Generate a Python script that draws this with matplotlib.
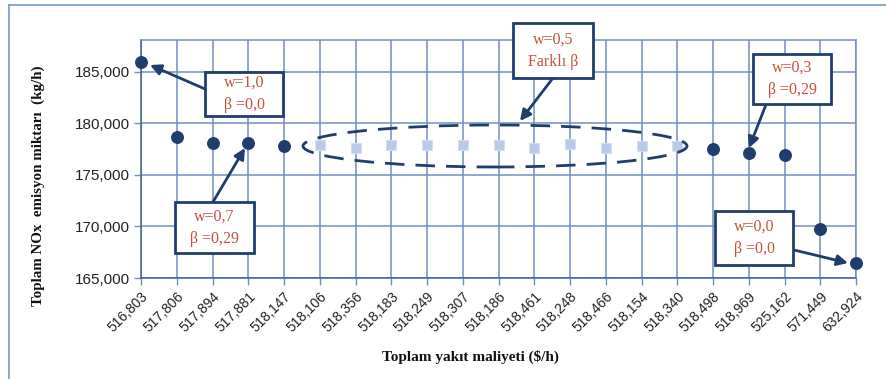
import matplotlib
matplotlib.use("Agg")
import matplotlib.pyplot as plt
from matplotlib.patches import Ellipse, Rectangle
from matplotlib.lines import Line2D
from matplotlib.ticker import FuncFormatter, MultipleLocator

categories = ["516,803", "517,806", "517,894", "517,881", "518,147", "518,106",
              "518,356", "518,183", "518,249", "518,307", "518,186", "518,461",
              "518,248", "518,466", "518,154", "518,340", "518,498", "518,969",
              "525,162", "571,449", "632,924"]
emissions = [185970, 178640, 178100, 178100, 177770, 177930, 177600, 177930,
             177930, 177930, 177930, 177600, 178030, 177600, 177770, 177770,
             177480, 177120, 176920, 169780, 166490]
square_idx = list(range(5, 16))
circle_idx = [i for i in range(len(categories)) if i not in square_idx]

W, H = 886, 379
fig = plt.figure(figsize=(W / 100, H / 100), dpi=100)
L, R, B, T = 141, 856, 278, 40
ax = fig.add_axes([L / W, 1 - B / H, (R - L) / W, (B - T) / H])

navy = "#1f3d6d"
grid_c = "#6f8fbf"
red = "#c9503c"

x = list(range(len(categories)))
ax.plot([x[i] for i in circle_idx], [emissions[i] for i in circle_idx], "o",
        color=navy, markersize=8.3, zorder=5, clip_on=False)
ax.plot([x[i] for i in square_idx], [emissions[i] for i in square_idx], "s",
        color="#b9c9e8", markeredgecolor="#d3def2", markeredgewidth=0.8,
        markersize=7.5, zorder=5, clip_on=False)

ax.set_xlim(0, len(categories) - 1)
ax.set_ylim(165000, 188100)
ax.yaxis.set_major_locator(MultipleLocator(5000))
ax.yaxis.set_major_formatter(FuncFormatter(lambda v, p: f"{int(v):,}"))
ax.set_xticks(x)
ax.set_xticklabels(categories, rotation=45, ha="right", rotation_mode="anchor",
                   fontsize=10, family="Liberation Sans", color="#222222")
for lab in ax.get_yticklabels():
    lab.set_fontsize(11)
    lab.set_family("Liberation Sans")
    lab.set_color("#222222")
ax.tick_params(axis="both", length=5, color=grid_c, width=1)
ax.tick_params(axis="x", pad=3)
ax.tick_params(axis="y", pad=3)
ax.grid(True, color=grid_c, linewidth=1.1)
ax.set_axisbelow(True)
for s in ax.spines.values():
    s.set_color(grid_c)
    s.set_linewidth(1.1)
ax.spines["left"].set_color("#3f5f92")
ax.spines["bottom"].set_color("#3f5f92")

def px2ax(px, py):
    return ((px - L) / (R - L), (B - py) / (B - T))

# dashed ellipse around middle group
ex, ey = px2ax(495, 146)
ell = Ellipse((ex, ey), 384 / (R - L), 42 / (B - T), transform=ax.transAxes,
              fill=False, edgecolor=navy, linewidth=2, linestyle=(0, (7, 4)),
              zorder=6, clip_on=False)
ax.add_patch(ell)

boxes = [
    ("w=1,0\nβ =0,0", (205, 72, 283, 116), (205, 89), (150, 65)),
    ("w=0,7\nβ =0,29", (175, 202, 254, 253), (213, 202), (245, 148)),
    ("w=0,5\nFarklı β", (513, 23, 593, 78), (553, 78), (520, 121)),
    ("w=0,3\nβ =0,29", (753, 54, 831, 104), (767, 102), (749, 148)),
    ("w=0,0\nβ =0,0", (715, 211, 793, 265), (794, 250), (848, 263)),
]
for text, (x0, y0, x1, y1), start, tip in boxes:
    bx0, by1 = px2ax(x0, y1)
    bx1, by0 = px2ax(x1, y0)
    ax.add_patch(Rectangle((bx0, by1), bx1 - bx0, by0 - by1, transform=ax.transAxes,
                           facecolor="white", edgecolor=navy, linewidth=2,
                           zorder=8, clip_on=False))
    ax.text((bx0 + bx1) / 2, (by0 + by1) / 2, text, transform=ax.transAxes,
            ha="center", va="center", fontsize=11.5, family="Liberation Serif",
            color=red, linespacing=1.55, zorder=9)
    ax.annotate("", xy=px2ax(*tip), xytext=px2ax(*start),
                xycoords=ax.transAxes, textcoords=ax.transAxes,
                arrowprops=dict(arrowstyle="-|>", color=navy, lw=2,
                                mutation_scale=16, shrinkA=0, shrinkB=0),
                zorder=7, annotation_clip=False)

fig.text(38 / W, 1 - 186 / H, "Toplam NOx  emisyon miktarı  (kg/h)", rotation=90,
         ha="center", va="center", fontsize=10.8, fontweight="bold",
         family="Liberation Serif", color="#111111")
fig.text(470 / W, 1 - 357 / H, "Toplam yakıt maliyeti ($/h)", ha="center",
         va="center", fontsize=11, fontweight="bold", family="Liberation Serif",
         color="#111111")

# outer chart border (left and top visible)
border = "#7f9fcf"
fig.add_artist(Line2D([9 / W, 9 / W], [0, 1 - 5 / H], transform=fig.transFigure,
                      color=border, linewidth=1.3))
fig.add_artist(Line2D([9 / W, 1], [1 - 5 / H, 1 - 5 / H], transform=fig.transFigure,
                      color=border, linewidth=1.3))

fig.savefig("out.png", dpi=100)
